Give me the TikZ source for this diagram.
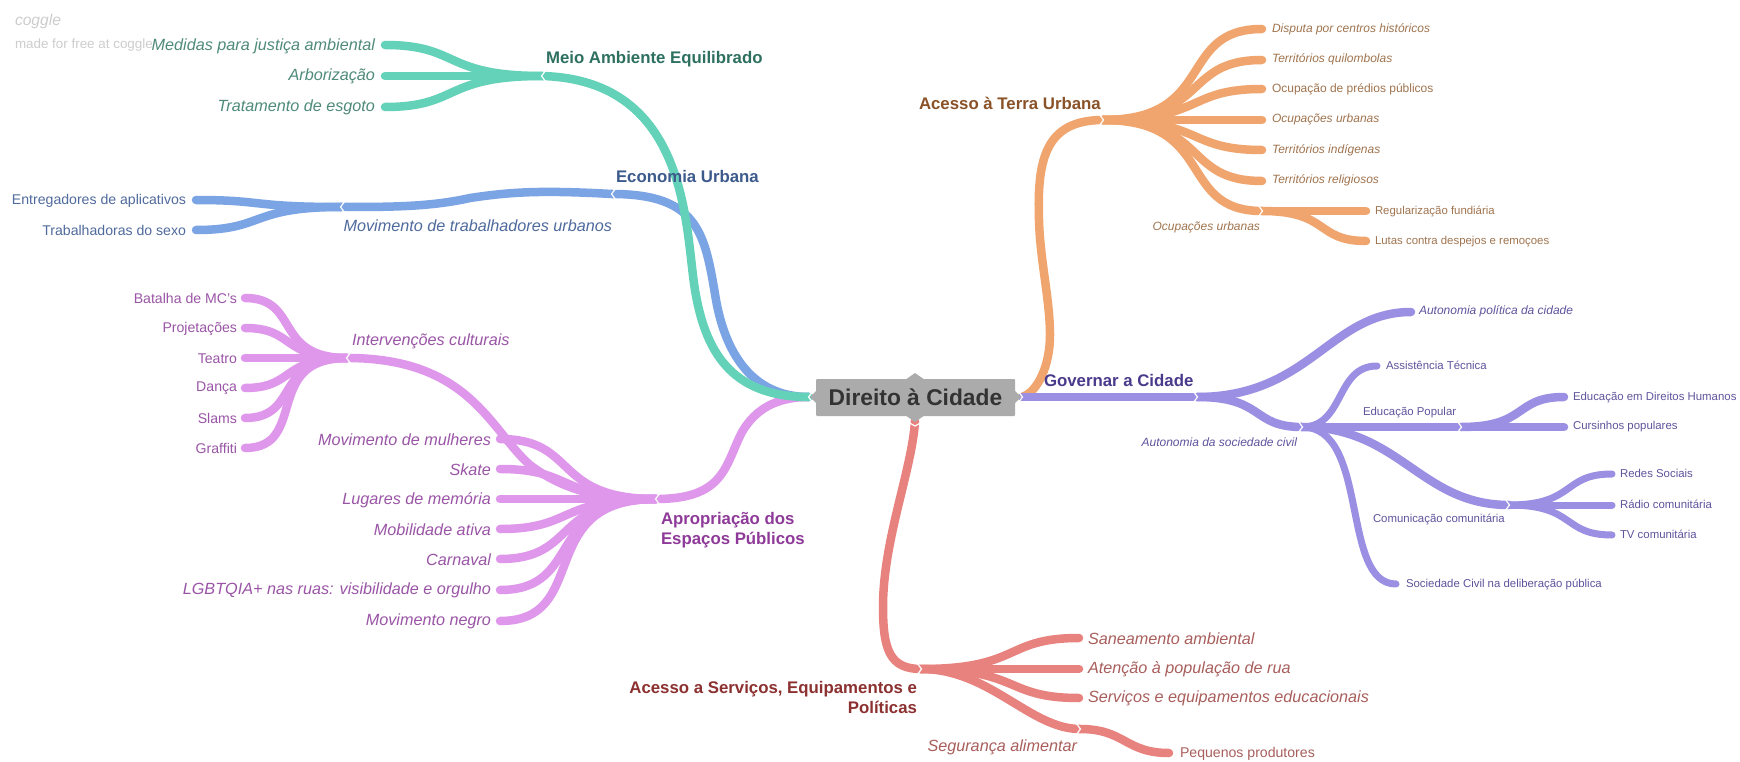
\documentclass[tikz,border=0pt]{standalone}
\usepackage{fontspec}
\setmainfont{Liberation Sans}
\definecolor{cG}{HTML}{64D2B8}\definecolor{tG}{HTML}{4F8A7A}\definecolor{hG}{HTML}{2E7060}
\definecolor{cB}{HTML}{7BA4E4}\definecolor{tB}{HTML}{4F6A9C}\definecolor{hB}{HTML}{3C5A8C}
\definecolor{cP}{HTML}{DE97EA}\definecolor{tP}{HTML}{9A55A6}\definecolor{hP}{HTML}{8E3A98}
\definecolor{cO}{HTML}{F0A56E}\definecolor{tO}{HTML}{A0744F}\definecolor{hO}{HTML}{8A5228}
\definecolor{cV}{HTML}{9A8FE2}\definecolor{tV}{HTML}{5F549C}\definecolor{hV}{HTML}{4A3A8C}
\definecolor{cR}{HTML}{E8827E}\definecolor{tR}{HTML}{A85F5C}\definecolor{hR}{HTML}{8C3030}
\definecolor{rootgray}{HTML}{ABABAB}
\tikzset{
  br/.style={line width=8.5pt,line cap=round,color=#1},
  thinbr/.style={line width=7pt,line cap=round,color=#1},
  fanL/.style={out=180,in=0,out looseness=1.6,in looseness=1.2},
  fanR/.style={out=0,in=180,out looseness=1.6,in looseness=1.2},
  chev/.style={draw=white,line width=1.2pt,line join=miter},
  txt/.style={inner sep=0pt,outer sep=0pt},
  bigit/.style={txt,yshift=-0.8pt,font=\fontsize{16.2}{19}\selectfont\itshape},
  smit/.style={txt,yshift=-0.8pt,font=\fontsize{12}{14}\selectfont\itshape},
  smup/.style={txt,yshift=-0.8pt,font=\fontsize{12}{14}\selectfont},
  sm/.style={txt,yshift=-0.8pt,font=\fontsize{11.4}{14}\selectfont},
  mid/.style={txt,yshift=-0.6pt,font=\fontsize{14.1}{17}\selectfont},
  head/.style={txt,font=\fontsize{16.8}{20.5}\selectfont\bfseries},
}
\newcommand{\chevL}[1]{\draw[chev] ([shift={(4,-6)}]#1) -- ([shift={(-0.5,0)}]#1) -- ([shift={(4,6)}]#1);}
\newcommand{\chevR}[1]{\draw[chev] ([shift={(-4,-6)}]#1) -- ([shift={(0.5,0)}]#1) -- ([shift={(-4,6)}]#1);}
\begin{document}
\begin{tikzpicture}[x=1pt,y=-1pt]
\path[use as bounding box,fill=white] (0,0) rectangle (1740,762);
% ---- anchors
\coordinate (rL) at (809,397);\coordinate (rR) at (1022,397);\coordinate (rB) at (915,421);
\coordinate (jMeio) at (542,76);\coordinate (tMed) at (385,45);\coordinate (tArb) at (385,76);\coordinate (tTra) at (385,107);
\coordinate (jEco) at (612,194);\coordinate (jMov) at (341,207);\coordinate (tEnt) at (196,200);\coordinate (tTrb) at (196,230);
\coordinate (jApr) at (656,499);\coordinate (jInt) at (347,358);
\foreach \n/\y in {a1/439,a2/469,a3/499,a4/529,a5/559,a6/590,a7/621}{\coordinate (\n) at (500,\y);}
\foreach \n/\y in {c1/298,c2/328,c3/358,c4/388,c5/418,c6/448}{\coordinate (\n) at (245,\y);}
\coordinate (jTer) at (1103,120);
\foreach \n/\y in {o1/29,o2/60,o3/89,o4/120,o5/150,o6/181}{\coordinate (\n) at (1262,\y);}
\coordinate (jOcu) at (1262,211);\coordinate (oR) at (1366,211);\coordinate (oL) at (1366,241);
\coordinate (jGov) at (1197,397);\coordinate (tPol) at (1411,312);\coordinate (jCiv) at (1302,427);
\coordinate (tAss) at (1377,366);\coordinate (jEdu) at (1461,427);\coordinate (tDH) at (1564,397);\coordinate (tCur) at (1564,427);
\coordinate (jCom) at (1509,505);\coordinate (tRed) at (1612,474);\coordinate (tRad) at (1612,505);\coordinate (tTV) at (1612,535);
\coordinate (tSoc) at (1396,584);
\coordinate (jSer) at (921,669);\coordinate (tSan) at (1079,638);\coordinate (tAte) at (1079,669);\coordinate (tSrv) at (1079,698);
\coordinate (jSeg) at (1080,729);\coordinate (tPeq) at (1169,753);
% ---- branches
% orange
\draw[br=cO] (rR) .. controls (1038,392) and (1050,365) .. (1050,335) .. controls (1050,300) and (1040,260) .. (1039,220) .. controls (1037,160) and (1045,120) .. (jTer);
\foreach \t in {o1,o2,o3,o4,o5,o6,jOcu}{\draw[br=cO] (jTer) to[fanR] (\t);}
\draw[br=cO] (jOcu) -- (oR);
\draw[br=cO] (jOcu) to[fanR] (oL);
% violet
\draw[br=cV] (rR) -- (jGov);
\draw[br=cV] (jGov) .. controls (1310,397) and (1330,312) .. (tPol);
\draw[br=cV] (jGov) to[fanR] (jCiv);
\draw[thinbr=cV] (jCiv) .. controls (1345,427) and (1335,366) .. (tAss);
\draw[br=cV] (jCiv) -- (jEdu);
\draw[br=cV] (jEdu) to[fanR] (tDH);
\draw[br=cV] (jEdu) -- (tCur);
\draw[br=cV] (jCiv) .. controls (1400,427) and (1420,505) .. (jCom);
\foreach \t in {tRed,tRad,tTV}{\draw[thinbr=cV] (jCom) to[fanR] (\t);}
\draw[thinbr=cV] (jCiv) .. controls (1370,427) and (1340,584) .. (tSoc);
% red
\draw[br=cR] (rB) .. controls (912,470) and (883,540) .. (883,607) .. controls (883,650) and (890,669) .. (jSer);
\foreach \t in {tSan,tAte,tSrv}{\draw[br=cR] (jSer) to[fanR] (\t);}
\draw[br=cR] (jSer) .. controls (990,669) and (1030,729) .. (jSeg);
\draw[br=cR] (jSeg) .. controls (1125,729) and (1125,753) .. (tPeq);
% pink
\draw[br=cP] (rL) .. controls (775,397) and (755,410) .. (742,432) .. controls (725,465) and (725,499) .. (jApr);
\foreach \t in {a1,a2,a3,a4,a5,a6,a7}{\draw[br=cP] (jApr) to[fanL] (\t);}
\draw[br=cP] (jApr) .. controls (610,499) and (570,495) .. (530,465) .. controls (490,430) and (470,358) .. (jInt);
\foreach \t in {c1,c2,c3,c4,c5,c6}{\draw[br=cP] (jInt) to[fanL] (\t);}
% blue
\draw[br=cB] (rL) .. controls (750,397) and (725,350) .. (716,300) .. controls (705,235) and (700,194) .. (jEco);
\draw[br=cB] (jEco) .. controls (540,190) and (510,192) .. (470,198) .. controls (430,207) and (390,207) .. (jMov);
\foreach \t in {tEnt,tTrb}{\draw[br=cB] (jMov) to[fanL] (\t);}
% green
\draw[br=cG] (rL) .. controls (730,397) and (705,350) .. (695,290) .. controls (685,230) and (690,80) .. (jMeio);
\foreach \t in {tMed,tArb,tTra}{\draw[br=cG] (jMeio) to[fanL] (\t);}
% chevrons
\foreach \c in {rL,jMeio,jEco,jMov,jApr,jInt}{\chevL{\c}}
\foreach \c in {rR,jTer,jOcu,jGov,jCiv,jEdu,jCom,jSer,jSeg}{\chevR{\c}}
% root
\fill[rootgray] (915,373) -- (925,380) -- (905,380) -- cycle;
\fill[rootgray] (915,422) -- (925,415) -- (905,415) -- cycle;
\fill[rootgray] (810,397) -- (817,390) -- (817,404) -- cycle;
\fill[rootgray] (1021,397) -- (1014,390) -- (1014,404) -- cycle;
\draw[chev] (906,421) -- (915,426) -- (924,421);
\node[fill=rootgray,minimum width=199pt,minimum height=37pt,rounded corners=1pt,inner sep=0pt,text={rgb,255:red,51;green,51;blue,51},font=\fontsize{22.8}{27}\selectfont\bfseries] (root) at (915.5,397.5) {Direito à Cidade};
% watermark
\node[txt,anchor=west,text={rgb,255:red,205;green,205;blue,205},font=\fontsize{15.6}{18}\selectfont\itshape] (wm1) at (15,21) {coggle};
\node[txt,anchor=west,text={rgb,255:red,205;green,205;blue,205},font=\fontsize{13.4}{16}\selectfont] (wm2) at (15,45) {made for free at coggle};
% labels green
\node[head,anchor=west,text=hG] (nMeio) at (546,59) {Meio Ambiente Equilibrado};
\node[bigit,anchor=east,text=tG] (nMed) at (375,46) {Medidas para justiça ambiental};
\node[bigit,anchor=east,text=tG] (nArb) at (375,76) {Arborização};
\node[bigit,anchor=east,text=tG] (nTra) at (375,107) {Tratamento de esgoto};
% blue
\node[head,anchor=west,text=hB] (nEco) at (616,176) {Economia Urbana};
\node[mid,anchor=east,text=tB] (nEnt) at (186,200) {Entregadores de aplicativos};
\node[mid,anchor=east,text=tB] (nTrb) at (186,230) {Trabalhadoras do sexo};
\node[bigit,anchor=east,text=tB] (nMov) at (612,225) {Movimento de trabalhadores urbanos};
% pink
\node[head,anchor=north west,align=left,text=hP] (nApr) at (661,512) {Apropriação dos\\Espaços Públicos};
\node[bigit,anchor=west,text=tP] (nInt) at (352,341) {Intervenções culturais};
\foreach \n/\y/\t in {b1/298/Batalha de MC's,b2/328/Projetações,b3/358/Teatro,b4/388/Dança,b5/418/Slams,b6/448/Graffiti}{\node[mid,anchor=east,text=tP] (\n) at (237,\y) {\t};}
\foreach \n/\y/\t in {d1/439/Movimento de mulheres,d2/469/Skate,d3/499/Lugares de memória,d4/529/Mobilidade ativa,d5/559/Carnaval,d6/590/LGBTQIA+ nas ruas: visibilidade e orgulho,d7/621/Movimento negro}{\node[bigit,anchor=east,text=tP] (\n) at (491,\y) {\t};}
% orange
\node[head,anchor=west,text=hO] (nTer) at (919,103) {Acesso à Terra Urbana};
\node[smit,anchor=west,text=tO] (e1) at (1272,29) {Disputa por centros históricos};
\node[smit,anchor=west,text=tO] (e2) at (1272,59) {Territórios quilombolas};
\node[smup,anchor=west,text=tO] (e3) at (1272,89) {Ocupação de prédios públicos};
\node[smit,anchor=west,text=tO] (e4) at (1272,119) {Ocupações urbanas};
\node[smit,anchor=west,text=tO] (e5) at (1272,150) {Territórios indígenas};
\node[smit,anchor=west,text=tO] (e6) at (1272,180) {Territórios religiosos};
\node[smit,anchor=east,text=tO] (e7) at (1260,227) {Ocupações urbanas};
\node[sm,anchor=west,text=tO] (e8) at (1375,211) {Regularização fundiária};
\node[sm,anchor=west,text=tO] (e9) at (1375,241) {Lutas contra despejos e remoçoes};
% violet
\node[head,anchor=west,text=hV] (nGov) at (1044,380) {Governar a Cidade};
\node[smit,anchor=west,text=tV] (v1) at (1419,311) {Autonomia política da cidade};
\node[smit,anchor=east,text=tV] (v2) at (1297,441) {Autonomia da sociedade civil};
\node[sm,anchor=west,text=tV] (v3) at (1386,365) {Assistência Técnica};
\node[sm,anchor=west,text=tV] (v4) at (1363,412) {Educação Popular};
\node[sm,anchor=west,text=tV] (v5) at (1573,397) {Educação em Direitos Humanos};
\node[sm,anchor=west,text=tV] (v6) at (1573,426) {Cursinhos populares};
\node[sm,anchor=west,text=tV] (v7) at (1373,519) {Comunicação comunitária};
\node[sm,anchor=west,text=tV] (v8) at (1620,473) {Redes Sociais};
\node[sm,anchor=west,text=tV] (v9) at (1620,504) {Rádio comunitária};
\node[sm,anchor=west,text=tV] (v10) at (1620,534) {TV comunitária};
\node[sm,anchor=west,text=tV] (v11) at (1406,584) {Sociedade Civil na deliberação pública};
% red
\node[head,anchor=north east,align=right,text=hR] (nSer) at (917,681) {Acesso a Serviços, Equipamentos e\\Políticas};
\node[bigit,anchor=west,text=tR] (r1) at (1088,638) {Saneamento ambiental};
\node[bigit,anchor=west,text=tR] (r2) at (1088,668) {Atenção à população de rua};
\node[bigit,anchor=west,text=tR] (r3) at (1088,698) {Serviços e equipamentos educacionais};
\node[bigit,anchor=east,text=tR] (r4) at (1077,747) {Segurança alimentar};
\node[mid,anchor=west,text=tR] (r5) at (1180,753) {Pequenos produtores};
\end{tikzpicture}
\end{document}
